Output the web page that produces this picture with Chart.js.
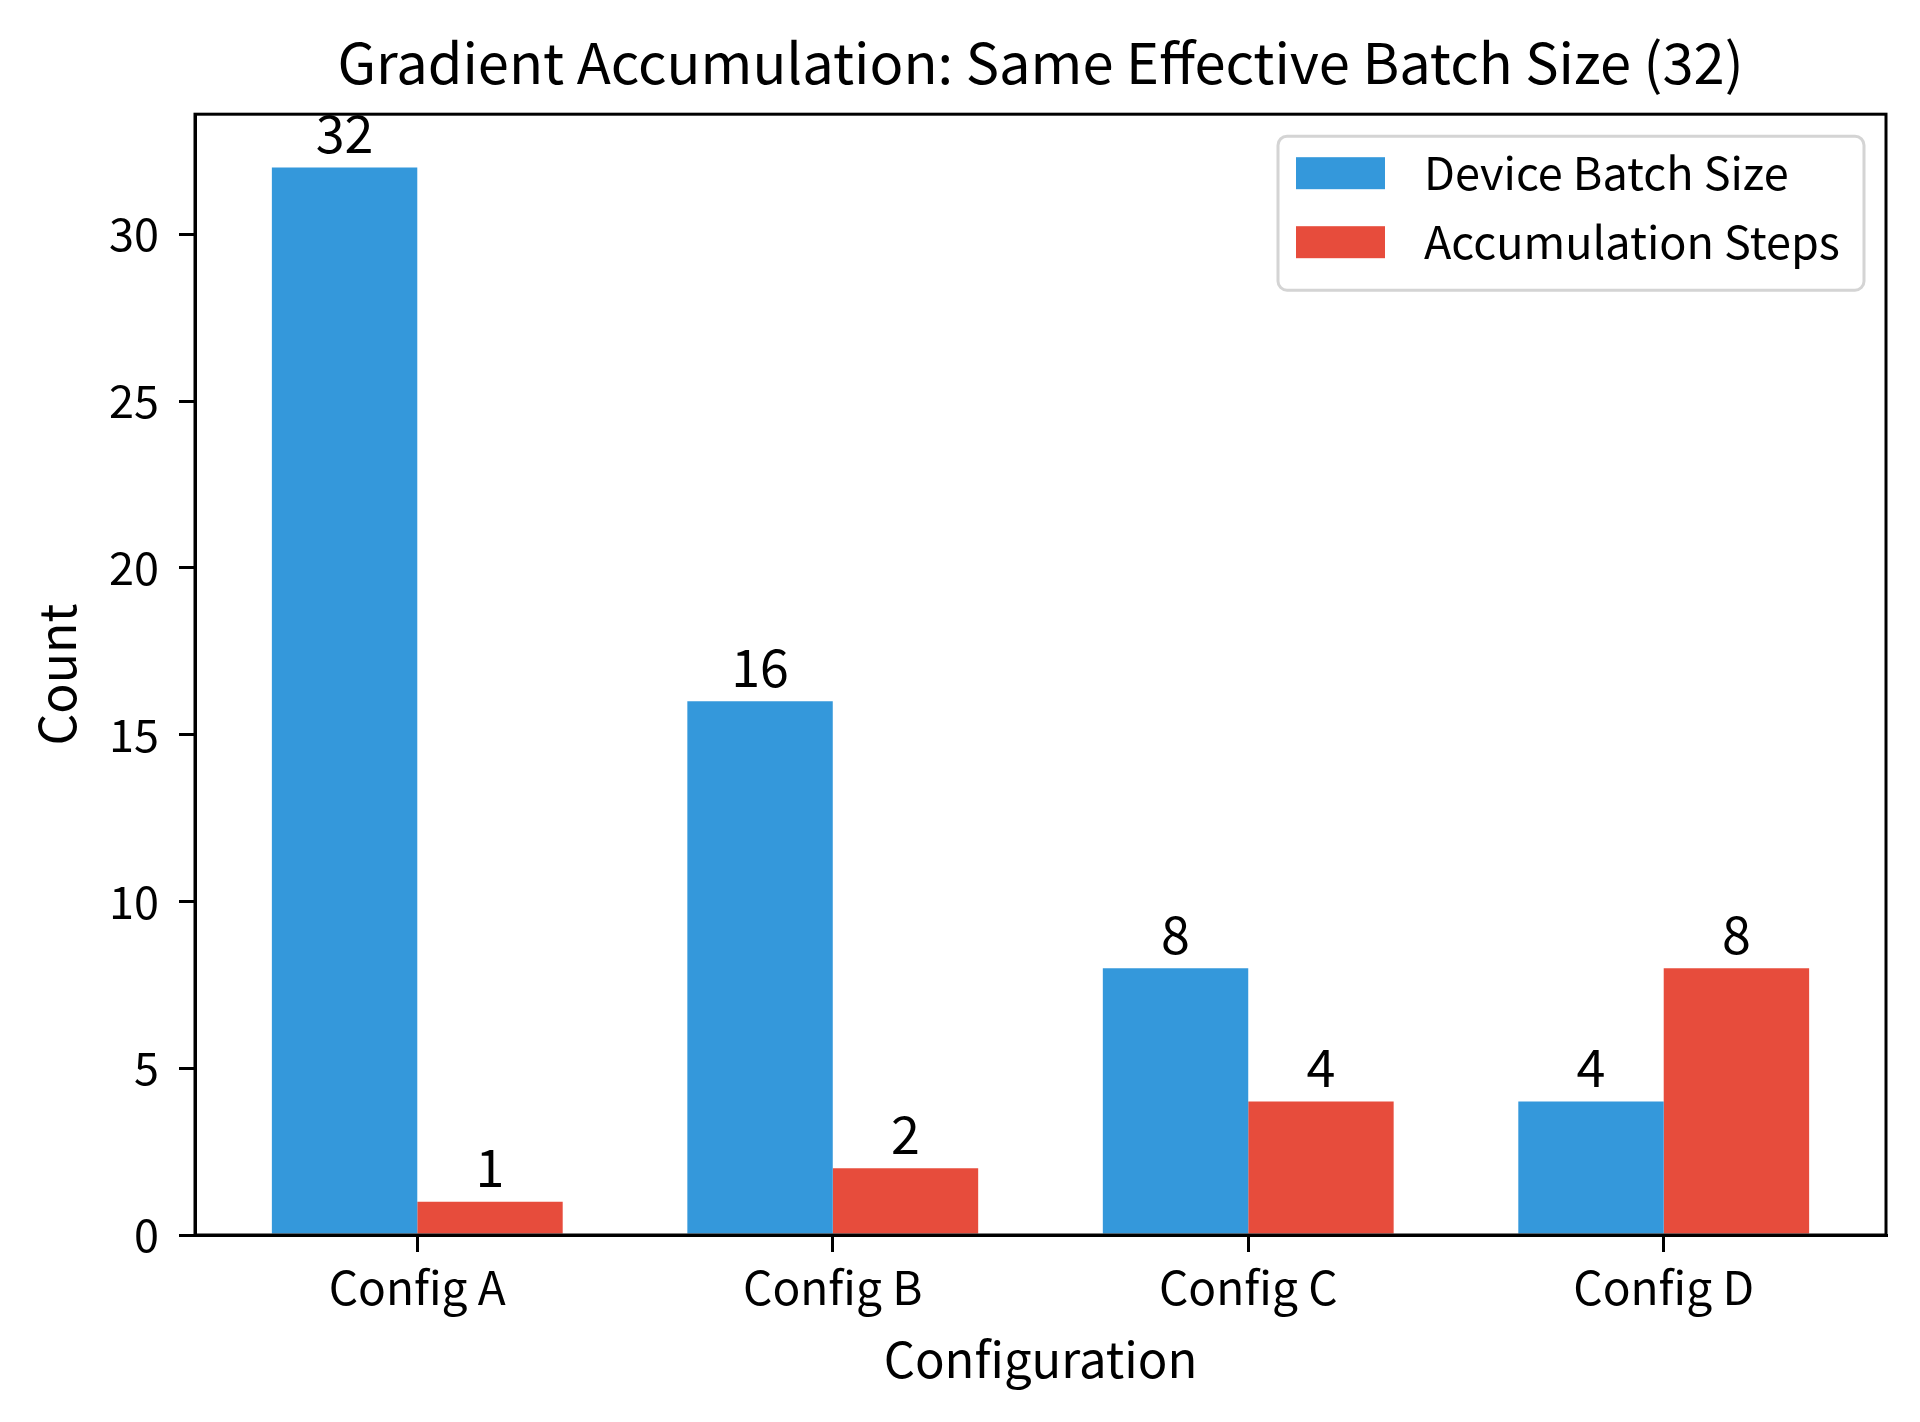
<!DOCTYPE html>
<html>
<head>
<meta charset="utf-8">
<title>Gradient Accumulation</title>
<script src="https://cdn.jsdelivr.net/npm/chart.js@4.4.1/dist/chart.umd.min.js"></script>
<style>
    html, body { margin: 0; padding: 0; background: #fff; }
    #wrap { width: 1920px; height: 1422px; }
</style>
</head>
<body>
<div id="wrap"><canvas id="chart" width="1920" height="1422"></canvas></div>
<script>
const categories = ['Config A', 'Config B', 'Config C', 'Config D'];
const deviceBatch = [32, 16, 8, 4];
const accumSteps = [1, 2, 4, 8];
const yTicks = [0, 5, 10, 15, 20, 25, 30];
const seriesNames = ['Device Batch Size', 'Accumulation Steps'];
const seriesColors = ['#3498db', '#e74c3c'];

const FONT = '"Noto Sans CJK JP", "Noto Sans", sans-serif';

// cadre complet autour de la zone de tracé (haut + droite)
const frame = {
    id: 'frame',
    afterDatasetsDraw(chart) {
        const { ctx, chartArea: a } = chart;
        ctx.save();
        ctx.strokeStyle = '#000';
        ctx.lineWidth = 3;
        ctx.strokeRect(a.left, a.top, a.right - a.left, a.bottom - a.top);
        ctx.restore();
    }
};

// valeurs au-dessus des barres
const barValues = {
    id: 'barValues',
    afterDatasetsDraw(chart) {
        const { ctx } = chart;
        ctx.save();
        ctx.font = `52px ${FONT}`;
        ctx.fillStyle = '#000';
        ctx.textAlign = 'center';
        ctx.textBaseline = 'bottom';
        chart.data.datasets.forEach((ds, i) => {
            chart.getDatasetMeta(i).data.forEach((bar, j) => {
                ctx.fillText(String(ds.data[j].y), bar.x, bar.y - 8);
            });
        });
        ctx.restore();
    }
};

// légende encadrée dans le coin supérieur droit
const boxLegend = {
    id: 'boxLegend',
    afterDraw(chart) {
        const { ctx, chartArea: a } = chart;
        const w = 586, h = 154;
        const x0 = a.right - 22 - w;
        const y0 = a.top + 22;
        ctx.save();
        ctx.fillStyle = 'rgba(255,255,255,0.8)';
        ctx.strokeStyle = '#d4d4d4';
        ctx.lineWidth = 3;
        ctx.beginPath();
        ctx.roundRect(x0, y0, w, h, 9);
        ctx.fill();
        ctx.stroke();
        ctx.font = `45px ${FONT}`;
        ctx.textAlign = 'left';
        ctx.textBaseline = 'middle';
        chart.data.datasets.forEach((ds, i) => {
            const cy = y0 + 37 + i * 69;
            ctx.fillStyle = ds.backgroundColor;
            ctx.fillRect(x0 + 18, cy - 16, 89, 32);
            ctx.fillStyle = '#000';
            ctx.fillText(ds.label, x0 + 146, cy);
        });
        ctx.restore();
    }
};

const ctx = document.getElementById('chart').getContext('2d');

new Chart(ctx, {
    type: 'bar',
    data: {
        datasets: [
            {
                label: seriesNames[0],
                data: deviceBatch.map((v, i) => ({ x: i, y: v })),
                backgroundColor: seriesColors[0],
                borderWidth: 0
            },
            {
                label: seriesNames[1],
                data: accumSteps.map((v, i) => ({ x: i, y: v })),
                backgroundColor: seriesColors[1],
                borderWidth: 0
            }
        ]
    },
    options: {
        responsive: false,
        animation: false,
        devicePixelRatio: 1,
        categoryPercentage: 0.7,
        barPercentage: 1.0,
        layout: { padding: { left: 0, right: 34, top: 0, bottom: 0 } },
        plugins: {
            legend: { display: false },
            tooltip: { enabled: false },
            title: {
                display: true,
                fullSize: false,
                text: 'Gradient Accumulation: Same Effective Batch Size (32)',
                color: '#000',
                font: { family: FONT, size: 56, weight: 'normal', lineHeight: 1.2 },
                padding: { top: 29, bottom: 18 }
            }
        },
        scales: {
            x: {
                type: 'linear',
                offset: false,
                min: -0.535,
                max: 3.535,
                afterBuildTicks: (s) => { s.ticks = categories.map((c, i) => ({ value: i })); },
                afterFit: (s) => { s.height = 187; },
                ticks: {
                    callback: (v) => categories[v],
                    color: '#000',
                    font: { family: FONT, size: 46 },
                    padding: 8,
                    maxRotation: 0,
                    autoSkip: false
                },
                grid: { offset: false, drawOnChartArea: false, drawTicks: true, tickLength: 17, color: '#000', lineWidth: 3 },
                border: { display: true, color: '#000', width: 3 },
                title: {
                    display: true,
                    text: 'Configuration',
                    color: '#000',
                    font: { family: FONT, size: 49, lineHeight: 1.2 },
                    padding: { top: 0, bottom: 33 }
                }
            },
            y: {
                min: 0,
                max: 33.6,
                afterBuildTicks: (s) => { s.ticks = yTicks.map(v => ({ value: v })); },
                afterFit: (s) => { s.width = 195; },
                ticks: {
                    color: '#000',
                    font: { family: FONT, size: 45 },
                    padding: 20
                },
                grid: { drawOnChartArea: false, drawTicks: true, tickLength: 16, color: '#000', lineWidth: 3 },
                border: { display: true, color: '#000', width: 3 },
                title: {
                    display: true,
                    text: 'Count',
                    color: '#000',
                    font: { family: FONT, size: 50, lineHeight: 1.2 },
                    padding: { top: 27, bottom: 0 }
                }
            }
        }
    },
    plugins: [frame, barValues, boxLegend]
});
</script>
</body>
</html>
